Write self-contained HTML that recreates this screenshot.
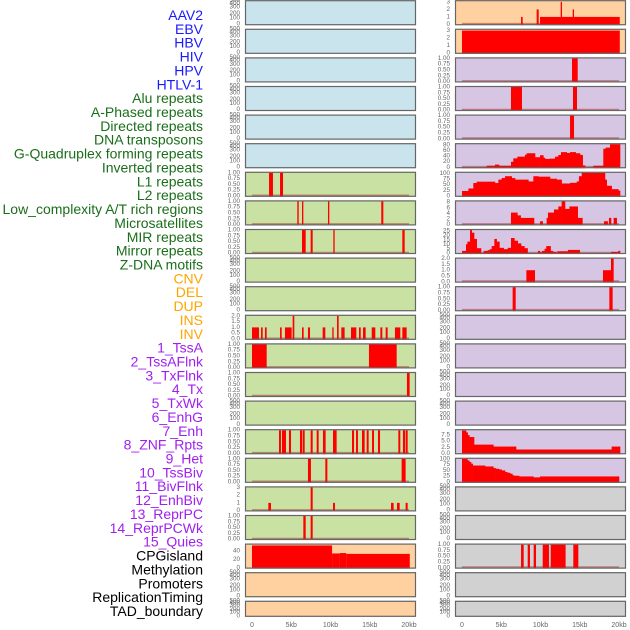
<!DOCTYPE html>
<html><head><meta charset="utf-8"><style>
html,body{margin:0;padding:0;background:#fff;}
svg{display:block;font-family:"Liberation Sans",sans-serif;}
</style></head><body>
<svg id="chart" width="630" height="630" viewBox="0 0 630 630" xmlns="http://www.w3.org/2000/svg"></svg>
<script>
const labelNames=["AAV2","EBV","HBV","HIV","HPV","HTLV-1","Alu repeats","A-Phased repeats","Directed repeats","DNA transposons","G-Quadruplex forming repeats","Inverted repeats","L1 repeats","L2 repeats","Low_complexity A/T rich regions","Microsatellites","MIR repeats","Mirror repeats","Z-DNA motifs","CNV","DEL","DUP","INS","INV","1_TssA","2_TssAFlnk","3_TxFlnk","4_Tx","5_TxWk","6_EnhG","7_Enh","8_ZNF_Rpts","9_Het","10_TssBiv","11_BivFlnk","12_EnhBiv","13_ReprPC","14_ReprPCWk","15_Quies","CPGisland","Methylation","Promoters","ReplicationTiming","TAD_boundary"];
const labelGroups=[6,13,5,15,5];
const groupColors=["#1a1aff","#1a6e1a","#ffa500","#a020f0","#000000"];
const xTickLabels=["0","5kb","10kb","15kb","20kb"];
const xTickValues=[0,5,10,15,20];
const t1=["0.00","0.25","0.50","0.75","1.00"], v1=[0,0.25,0.5,0.75,1];
const t2=["0.0","0.5","1.0","1.5","2.0"], v2=[0,0.5,1,1.5,2];
const t3=["0","1","2","3"], v3=[0,1,2,3];
// bar segments [startKb,endKb,value]
const aluSeg=[[2.17,2.67,1],[3.57,3.95,1]];
const aphasedSeg=[[5.77,5.95,1],[6.37,6.54,1],[9.68,9.85,1],[16.47,16.73,1]];
const directedSeg=[[6.37,6.84,1],[7.47,7.73,1],[10.36,10.53,1],[19.15,19.45,1]];
const invertedSeg=[[0,0.89,1],[1.15,1.36,1],[1.65,1.87,1],[3.57,3.78,1],[4.2,5.05,1],[5.18,5.39,2],[6.37,6.58,1],[7.13,7.39,1],[9.0,9.34,1],[10.23,10.4,1],[10.83,11.04,2],[11.38,11.8,1],[12.61,13.29,1],[13.63,13.85,1],[14.14,14.48,1],[15.25,15.71,1],[16.35,16.6,1],[17.03,17.28,1],[18.21,18.89,1],[19.15,19.7,1]];
const l1Seg=[[0,1.87,1],[14.9,18.43,1]];
const l2Seg=[[19.74,20.08,1]];
const microSeg=[[3.44,3.69,1],[3.82,4.33,1],[4.71,4.97,1],[6.11,6.37,1],[6.45,6.71,1],[7.47,7.73,1],[8.24,8.49,1],[9.04,9.38,1],[10.32,10.78,1],[12.74,13.0,1],[13.25,13.5,1],[14.01,14.35,1],[14.61,14.86,1],[15.29,15.54,1],[16.05,16.31,1],[18.64,18.89,1],[19.23,19.49,1],[19.57,19.83,1]];
const mirSeg=[[7.13,7.51,1],[9.34,9.6,1],[19.06,19.57,1]];
const mirrorSeg=[[2.08,2.42,1],[7.47,7.73,3],[10.32,10.57,1],[17.71,18.04,1],[18.47,18.81,1],[19.57,19.83,1]];
const zdnaSeg=[[6.54,6.84,1],[7.47,7.73,1]];
const cnvSeg=[[0,10.2,53],[10.2,11.2,34],[11.2,12.0,35],[12.0,20.1,33]];
const insSeg=[[7.52,7.73,1],[9.51,9.77,2],[9.94,20.1,1],[12.57,12.74,3],[14.1,14.27,2]];
const invSeg=[[0,20.1,3]];
const tssaSeg=[[14.01,14.74,1]];
const tssaflnkSeg=[[6.24,7.64,1],[14.14,14.65,1]];
const txflnkSeg=[[13.76,14.27,1]];
const znfSeg=[[8.2,9.3,1],[17.96,18.98,1],[18.98,19.32,2]];
const hetSeg=[[6.45,6.84,1],[18.77,19.19,1]];
const promSeg=[[7.52,7.86,1],[8.37,8.66,1],[9.13,9.43,1],[10.28,11.08,1],[11.3,13.2,1],[14.18,14.82,1]];
// step profiles: breakpoints (kb) and values between them
const txBreaks=[0,3.14,4.2,4.71,6.24,6.54,7.05,8.02,8.24,9.3,9.94,10.36,10.57,11.21,11.85,12.27,12.61,13.34,13.76,14.48,15.03,15.37,15.67,16.73,18.0,18.3,18.85,20.13];
const txVals=[1,6,10,6,20,32,38,45,50,36,43,34,30,31,38,44,54,51,54,50,44,7,0,6,66,70,90];
const txwkBreaks=[0,0.81,1.44,1.87,4.2,4.63,5.05,5.48,6.33,6.75,8.45,9.09,9.72,11.21,12.06,12.69,13.76,14.61,14.9,15.25,18.21,18.43,19.06,19.91,20.13];
const txwkVals=[22,33,57,63,57,72,79,87,79,72,64,87,85,76,72,55,58,64,87,105,72,45,30,24];
const enhgBreaks=[0,6.24,7.05,7.47,9.17,9.94,10.27,10.78,10.95,11.72,12.27,12.69,13.12,13.68,14.74,15.33,18.09,18.55,18.72,18.98,19.32,19.7,20.08];
const enhgVals=[0,4.3,3.3,2.4,0,1.2,0,2.4,4.3,5.4,6.5,8.5,5.6,6.5,2.4,0,1.2,0,2.4,0,2.4,0];
const enhBreaks=[0,0.51,0.68,1.02,1.23,1.53,1.87,2.42,2.76,3.27,3.52,3.78,4.12,4.41,4.76,5.31,5.82,6.24,6.67,7.09,7.52,7.94,8.35,9.67,9.92,10.18,10.52,10.73,11.28,11.58,12.0,12.13,13.5,14.99,18.98,19.91,20.13];
const enhVals=[2.6,10,13,26,23,16,5.6,0,2.6,3.4,4.5,8,16,13,6,4.5,6,17,14,11,8,5.6,0,2.6,1,2.6,5,8,2.6,1.5,0,2.2,3.7,0,1.5,2.6];
const reprpcwkBreaks=[0,0.51,0.72,0.93,1.53,3.99,6.88,19.06,20.13];
const reprpcwkVals=[9.4,8.6,7.5,6.7,3.6,2.8,1.6,2.8];
const quiesBreaks=[0,0.68,0.93,1.15,1.36,2.93,3.99,4.29,4.71,5.05,5.48,5.77,6.11,6.41,6.62,7.26,9.09,9.94,20.0];
const quiesVals=[100,93,86,79,71,67,60,57,54,50,43,40,36,29,27,24,20,24];

const BG={blue:"#c9e4ec",green:"#c9e1a2",orange:"#ffd1a0",purple:"#d6c6e3",grey:"#d1d1d1"};
const tracks=[];
function T(name,col,row,bg,max,tl,tv,segs,br,vl){tracks.push({name,col,row,bg,max,tl,tv,segs,br,vl});}
["aav2","ebv","hbv","hiv","hpv","htlv-1"].forEach((n,i)=>T(n,0,i,"blue"));
T("alu-repeats",0,6,"green",1,t1,v1,aluSeg);
T("a-phased-repeats",0,7,"green",1,t1,v1,aphasedSeg);
T("directed-repeats",0,8,"green",1,t1,v1,directedSeg);
T("dna-transposons",0,9,"green");
T("g-quadruplex",0,10,"green");
T("inverted-repeats",0,11,"green",2,t2,v2,invertedSeg);
T("l1-repeats",0,12,"green",1,t1,v1,l1Seg);
T("l2-repeats",0,13,"green",1,t1,v1,l2Seg);
T("low-complexity",0,14,"green");
T("microsatellites",0,15,"green",1,t1,v1,microSeg);
T("mir-repeats",0,16,"green",1,t1,v1,mirSeg);
T("mirror-repeats",0,17,"green",3,t3,v3,mirrorSeg);
T("z-dna-motifs",0,18,"green",1,t1,v1,zdnaSeg);
T("cnv",0,19,"orange",55,["0","20","40"],[0,20,40],cnvSeg);
T("del",0,20,"orange");
T("dup",0,21,"orange");
T("ins",1,0,"orange",3.1,t3,v3,insSeg);
T("inv",1,1,"orange",3.1,t3,v3,invSeg);
T("1-tssa",1,2,"purple",1,t1,v1,tssaSeg);
T("2-tssaflnk",1,3,"purple",1,t1,v1,tssaflnkSeg);
T("3-txflnk",1,4,"purple",1,t1,v1,txflnkSeg);
T("4-tx",1,5,"purple",82,["0","20","40","60","80"],[0,20,40,60,80],null,txBreaks,txVals);
T("5-txwk",1,6,"purple",102,["0","25","50","75","100"],[0,25,50,75,100],null,txwkBreaks,txwkVals);
T("6-enhg",1,7,"purple",8.3,["0","2","4","6","8"],[0,2,4,6,8],null,enhgBreaks,enhgVals);
T("7-enh",1,8,"purple",26,["0","5","10","15","20","25"],[0,5,10,15,20,25],null,enhBreaks,enhVals);
T("8-znf-rpts",1,9,"purple",2,t2,v2,znfSeg);
T("9-het",1,10,"purple",1,t1,v1,hetSeg);
["10-tssbiv","11-bivflnk","12-enhbiv","13-reprpc"].forEach((n,i)=>T(n,1,11+i,"purple"));
T("14-reprpcwk",1,15,"purple",9.5,["0.0","2.5","5.0","7.5"],[0,2.5,5,7.5],null,reprpcwkBreaks,reprpcwkVals);
T("15-quies",1,16,"purple",100,["0","25","50","75","100"],[0,25,50,75,100],null,quiesBreaks,quiesVals);
T("cpgisland",1,17,"grey");
T("methylation",1,18,"grey");
T("promoters",1,19,"grey",1,t1,v1,promSeg);
T("replicationtiming",1,20,"grey");
T("tad-boundary",1,21,"grey");

const NS="http://www.w3.org/2000/svg";
const svg=document.getElementById("chart");
function mk(tag,attrs,parent){const e=document.createElementNS(NS,tag);for(const k in attrs)e.setAttribute(k,attrs[k]);(parent||svg).appendChild(e);return e;}
const PX=[245,455], PW=171, XO=[252,462], XSPAN=157;
function xScale(col,kb){return XO[col]+Math.max(0,Math.min(20.2,kb))/20*XSPAN;}
function rowTop(r){return 0.2+28.6*r;}
function rowH(r){return r===21?16:25;}
function yScale(top,h,max,v){const c=Math.max(0,Math.min(max,v));return top+h-0.8-(c/max)*(h-1.8);}

let li=0;
labelGroups.forEach((cnt,g)=>{for(let k=0;k<cnt;k++){const t=mk("text",{x:203,y:15+li*13.86,"text-anchor":"end","dominant-baseline":"central","font-size":"14",fill:groupColors[g]});


t.textContent=labelNames[li];li++;}});

const emptyOff=[23.7,17.7,13.3,7,3.3,0.2];
const emptyLbl=["0","100","200","300","400","500"];
tracks.forEach(tr=>{
  const top=rowTop(tr.row),h=rowH(tr.row),col=tr.col;
  const g=mk("g",{});
  
  
  mk("rect",{x:PX[col],y:top,width:PW,height:h,fill:BG[tr.bg]},g);
  const tx=col?450:240;
  if(!tr.max){
    emptyLbl.forEach((l,i)=>{const t=mk("text",{x:tx,y:top+emptyOff[i]*h/25,"text-anchor":"end","dominant-baseline":"central","font-size":"6.3",fill:"#666"},g);
    
    
    t.textContent=l;});
  }else{
    tr.tv.forEach((v,i)=>{const t=mk("text",{x:tx,y:yScale(top,h,tr.max,v),"text-anchor":"end","dominant-baseline":"central","font-size":"6.3",fill:"#666"},g);
    
    
    t.textContent=tr.tl[i];});
    const y0=yScale(top,h,tr.max,0);
    mk("line",{x1:xScale(col,0),x2:xScale(col,20),y1:y0-0.5,y2:y0-0.5,stroke:"rgba(170,60,60,0.55)","stroke-width":2},g);
    if(tr.segs){tr.segs.forEach(s=>{const y=yScale(top,h,tr.max,s[2]);
      const r=mk("rect",{x:xScale(col,s[0]),y:y,width:Math.max(0.8,xScale(col,s[1])-xScale(col,s[0])),height:top+h-y,fill:"#ff0000"},g);
      
      });}
    if(tr.br){for(let i=0;i<tr.vl.length;i++){if(tr.vl[i]<=0)continue;const y=yScale(top,h,tr.max,tr.vl[i]);
      const r=mk("rect",{x:xScale(col,tr.br[i]),y:y,width:xScale(col,tr.br[i+1])-xScale(col,tr.br[i])+0.3,height:top+h-y,fill:"#ff0000"},g);
      
      }}
  }
  mk("rect",{x:PX[col]+0.5,y:top+0.5,width:PW-1,height:h-1,fill:"none",stroke:"#666","stroke-width":1.2},g);
});
[0,1].forEach(col=>{xTickValues.forEach((v,i)=>{const t=mk("text",{x:xScale(col,v),y:627,"text-anchor":"middle","font-size":"7",fill:"#666"});


t.textContent=xTickLabels[i];});});
</script>
</body></html>
